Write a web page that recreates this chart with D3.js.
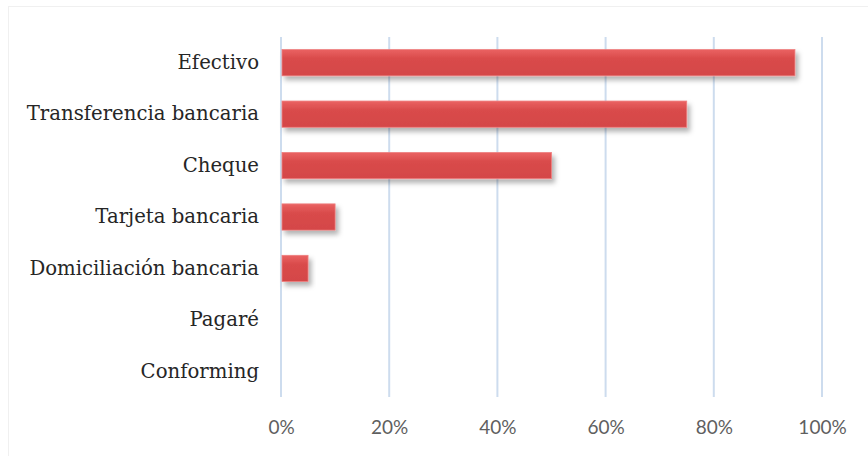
<!DOCTYPE html>
<html>
<head>
<meta charset="utf-8">
<script src="https://cdn.jsdelivr.net/npm/d3@7"></script>
<style>
  body { margin: 0; background: #fff; }
  svg { display: block; }
</style>
</head>
<body>
<div id="chart"></div>
<script>
// data
var categories = ["Efectivo", "Transferencia bancaria", "Cheque", "Tarjeta bancaria",
                  "Domiciliación bancaria", "Pagaré", "Conforming"];
var values = [0.95, 0.75, 0.50, 0.10, 0.05, 0, 0];
var tickValues = [0, 0.2, 0.4, 0.6, 0.8, 1.0];

var W = 868, H = 456;
var margin = {top: 37, right: 46, bottom: 59, left: 281},
    width = W - margin.left - margin.right,
    height = H - margin.top - margin.bottom;

var root = d3.select("#chart").append("svg")
    .attr("width", W)
    .attr("height", H);

// faint frame
root.append("rect")
    .attr("x", 8.5).attr("y", 6.5)
    .attr("width", W).attr("height", H)
    .style("fill", "none")
    .style("stroke", "#f0f0f0");

var defs = root.append("defs");
var grad = defs.append("linearGradient")
    .attr("id", "barGrad")
    .attr("x1", 0).attr("y1", 0).attr("x2", 0).attr("y2", 1);
grad.append("stop").attr("offset", "0%").attr("stop-color", "#ea6262");
grad.append("stop").attr("offset", "35%").attr("stop-color", "#d94b4b");
grad.append("stop").attr("offset", "100%").attr("stop-color", "#d44647");

var shadow = defs.append("filter")
    .attr("id", "shadow")
    .attr("x", "-20%").attr("y", "-50%")
    .attr("width", "150%").attr("height", "250%");
shadow.append("feDropShadow")
    .attr("dx", 3).attr("dy", 4)
    .attr("stdDeviation", 2.5)
    .attr("flood-color", "#000")
    .attr("flood-opacity", 0.3);

var svg = root.append("g")
    .attr("transform", "translate(" + margin.left + "," + margin.top + ")");

var x = d3.scaleLinear()
    .domain([0, 1])
    .range([0, width]);

var y = d3.scaleBand()
    .domain(categories)
    .range([0, height])
    .paddingInner(0.49)
    .paddingOuter(0.245);

// gridlines
svg.append("g")
    .selectAll("line")
    .data(tickValues)
    .enter().append("line")
    .attr("x1", function(d) { return x(d); })
    .attr("x2", function(d) { return x(d); })
    .attr("y1", 0)
    .attr("y2", height)
    .style("stroke", "#cddcee")
    .style("stroke-width", "2px");

// bars (zero values draw nothing)
var barData = categories.map(function(c, i) { return {cat: c, val: values[i]}; })
    .filter(function(d) { return d.val > 0; });

svg.append("g")
    .selectAll("rect")
    .data(barData)
    .enter().append("rect")
    .attr("x", x(0) + 1)
    .attr("y", function(d) { return y(d.cat); })
    .attr("width", function(d) { return x(d.val) - x(0) - 1; })
    .attr("height", y.bandwidth())
    .style("fill", "url(#barGrad)")
    .style("stroke", "#ee8080")
    .style("stroke-width", "0.8px")
    .attr("filter", "url(#shadow)");

// category labels
var yAxis = svg.append("g")
    .call(d3.axisLeft(y).tickSize(0).tickPadding(22));
yAxis.select(".domain").remove();
yAxis.selectAll("text")
    .style("font-family", "'DejaVu Serif', serif")
    .style("font-size", "19.7px")
    .style("fill", "#262626");

// x tick labels
var xAxis = svg.append("g")
    .attr("transform", "translate(0," + height + ")")
    .call(d3.axisBottom(x).tickValues(tickValues).tickSize(0).tickPadding(24)
        .tickFormat(d3.format(".0%")));
xAxis.select(".domain").remove();
xAxis.selectAll("text")
    .style("font-family", "Lato, sans-serif")
    .style("font-size", "19px")
    .style("fill", "#5f5f5f");
</script>
</body>
</html>
